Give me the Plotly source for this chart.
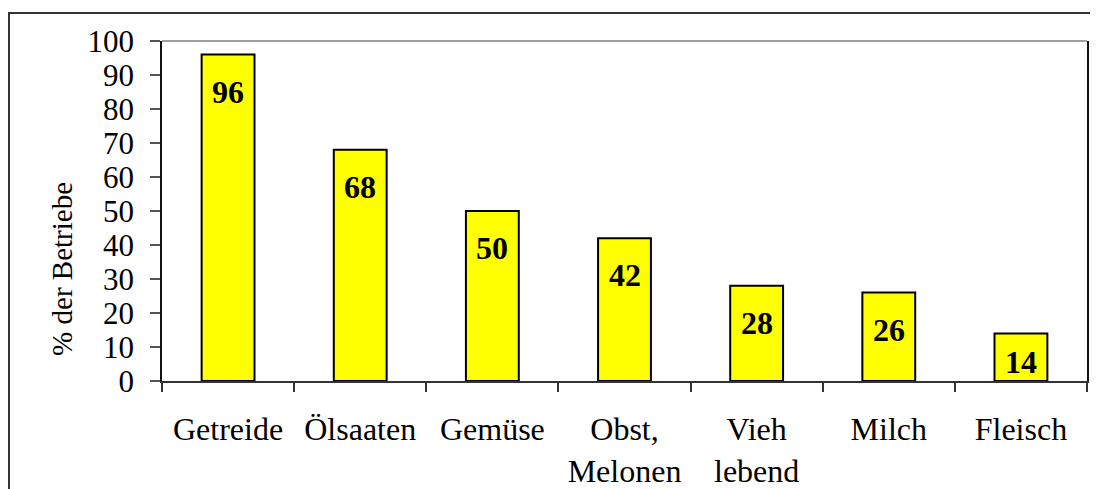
import plotly.graph_objects as go

categories = ["Getreide", "Ölsaaten", "Gemüse", "Obst,<br>Melonen", "Vieh<br>lebend", "Milch", "Fleisch"]
values = [96, 68, 50, 42, 28, 26, 14]
y_ticks = list(range(0, 101, 10))
y_title = "% der Betriebe"

FONT = "Times New Roman, Liberation Serif, serif"

PLOT_H = 340  # plot area height in px
fig = go.Figure()
fig.add_trace(go.Bar(
    x=categories, y=values,
    width=0.4,
    marker=dict(color="#FFFF00", line=dict(color="#000000", width=2)),
    hoverinfo="skip",
))

for c, v in zip(categories, values):
    bar_px = v / 100 * PLOT_H
    fig.add_annotation(
        x=c, y=v, xref="x", yref="y",
        text=f"<b>{v}</b>", showarrow=False,
        yanchor="middle", yshift=-min(37, bar_px - 19.5),
        font=dict(family=FONT, size=32, color="#000000"),
    )

# y axis title (shifted below center as in original)
fig.add_annotation(
    x=-0.108, y=0.33, xref="paper", yref="paper",
    text=y_title, textangle=-90, showarrow=False,
    xanchor="center", yanchor="middle",
    font=dict(family=FONT, size=29, color="#000000"),
)

# outer chart border
fig.add_shape(type="rect", xref="paper", yref="paper",
              x0=-0.1654, x1=1.0108, y0=-0.4, y1=1.0824,
              line=dict(color="#333333", width=2), fillcolor="rgba(0,0,0,0)")

# top edge of plot area (grey)
fig.add_shape(type="line", xref="paper", yref="paper",
              x0=0, x1=1, y0=1, y1=1,
              line=dict(color="#808080", width=1.5))

fig.update_layout(
    width=1090, height=481,
    margin=dict(l=154, r=11, t=33, b=108, autoexpand=False),
    paper_bgcolor="white", plot_bgcolor="white",
    showlegend=False,
    font=dict(family=FONT, size=32, color="#000000"),
    xaxis=dict(
        type="category", automargin=False,
        showline=True, linecolor="#333333", linewidth=1.5, mirror=False,
        ticks="outside", tickson="boundaries", ticklen=9, tickcolor="#333333", tickwidth=1.5,
        showgrid=False, zeroline=False,
        tickfont=dict(family=FONT, size=32, color="#000000"),
        ticklabelstandoff=19,
    ),
    yaxis=dict(
        range=[0, 100], tickvals=y_ticks, automargin=False,
        showline=True, linecolor="#111111", linewidth=1.5, mirror=True,
        ticks="outside", ticklen=10, tickcolor="#555555", tickwidth=1.5,
        showgrid=False, zeroline=False,
        tickfont=dict(family=FONT, size=31, color="#000000"),
        ticklabelstandoff=10,
    ),
    bargap=0.6,
)

fig.write_html("out.html")
